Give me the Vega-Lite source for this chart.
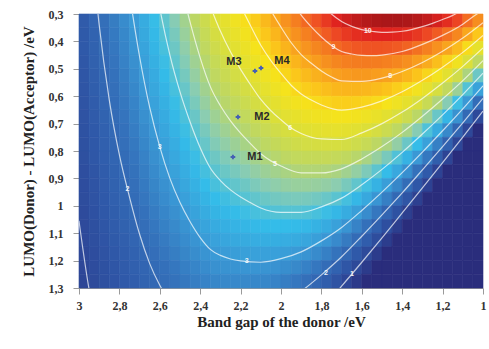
{
"$schema": "https://vega.github.io/schema/vega-lite/v6.json",
"width": 404, "height": 274,
"autosize": {"type": "none"},
"padding": {"left": 79, "top": 14, "right": 6, "bottom": 61},
"background": "white",
"config": {"view": {"stroke": null}, "axis": {"labelOverlap": false, "labelFlush": false, "grid": false, "labelBound": false, "domainColor": "#9a9a9a", "tickColor": "#9a9a9a", "tickSize": 6, "labelFont": "Liberation Serif", "labelFontSize": 12, "labelFontWeight": "bold", "labelColor": "#333333", "titleFont": "Liberation Serif", "titleFontSize": 15, "titleFontWeight": "bold", "titleColor": "#222222"}},
"datasets": {
"grid": [
{"e":2.975,"d":0.325,"v":1.58},{"e":2.975,"d":0.375,"v":1.55},{"e":2.975,"d":0.425,"v":1.52},{"e":2.975,"d":0.475,"v":1.48},{"e":2.975,"d":0.525,"v":1.45},{"e":2.975,"d":0.575,"v":1.42},{"e":2.975,"d":0.625,"v":1.38},{"e":2.975,"d":0.675,"v":1.35},{"e":2.975,"d":0.725,"v":1.31},{"e":2.975,"d":0.775,"v":1.28},{"e":2.975,"d":0.825,"v":1.25},{"e":2.975,"d":0.875,"v":1.21},{"e":2.975,"d":0.925,"v":1.18},{"e":2.975,"d":0.975,"v":1.15},{"e":2.975,"d":1.025,"v":1.11},{"e":2.975,"d":1.075,"v":1.08},{"e":2.975,"d":1.125,"v":1.05},{"e":2.975,"d":1.175,"v":1.01},{"e":2.975,"d":1.225,"v":0.98},{"e":2.975,"d":1.275,"v":0.94},
{"e":2.925,"d":0.325,"v":1.87},{"e":2.925,"d":0.375,"v":1.83},{"e":2.925,"d":0.425,"v":1.79},{"e":2.925,"d":0.475,"v":1.75},{"e":2.925,"d":0.525,"v":1.71},{"e":2.925,"d":0.575,"v":1.67},{"e":2.925,"d":0.625,"v":1.63},{"e":2.925,"d":0.675,"v":1.59},{"e":2.925,"d":0.725,"v":1.54},{"e":2.925,"d":0.775,"v":1.50},{"e":2.925,"d":0.825,"v":1.46},{"e":2.925,"d":0.875,"v":1.42},{"e":2.925,"d":0.925,"v":1.38},{"e":2.925,"d":0.975,"v":1.34},{"e":2.925,"d":1.025,"v":1.30},{"e":2.925,"d":1.075,"v":1.26},{"e":2.925,"d":1.125,"v":1.22},{"e":2.925,"d":1.175,"v":1.18},{"e":2.925,"d":1.225,"v":1.14},{"e":2.925,"d":1.275,"v":1.10},
{"e":2.875,"d":0.325,"v":2.16},{"e":2.875,"d":0.375,"v":2.11},{"e":2.875,"d":0.425,"v":2.06},{"e":2.875,"d":0.475,"v":2.01},{"e":2.875,"d":0.525,"v":1.96},{"e":2.875,"d":0.575,"v":1.92},{"e":2.875,"d":0.625,"v":1.87},{"e":2.875,"d":0.675,"v":1.82},{"e":2.875,"d":0.725,"v":1.77},{"e":2.875,"d":0.775,"v":1.72},{"e":2.875,"d":0.825,"v":1.68},{"e":2.875,"d":0.875,"v":1.63},{"e":2.875,"d":0.925,"v":1.58},{"e":2.875,"d":0.975,"v":1.53},{"e":2.875,"d":1.025,"v":1.49},{"e":2.875,"d":1.075,"v":1.44},{"e":2.875,"d":1.125,"v":1.39},{"e":2.875,"d":1.175,"v":1.34},{"e":2.875,"d":1.225,"v":1.29},{"e":2.875,"d":1.275,"v":1.25},
{"e":2.825,"d":0.325,"v":2.44},{"e":2.825,"d":0.375,"v":2.39},{"e":2.825,"d":0.425,"v":2.33},{"e":2.825,"d":0.475,"v":2.28},{"e":2.825,"d":0.525,"v":2.22},{"e":2.825,"d":0.575,"v":2.16},{"e":2.825,"d":0.625,"v":2.11},{"e":2.825,"d":0.675,"v":2.05},{"e":2.825,"d":0.725,"v":2.00},{"e":2.825,"d":0.775,"v":1.94},{"e":2.825,"d":0.825,"v":1.89},{"e":2.825,"d":0.875,"v":1.83},{"e":2.825,"d":0.925,"v":1.78},{"e":2.825,"d":0.975,"v":1.72},{"e":2.825,"d":1.025,"v":1.67},{"e":2.825,"d":1.075,"v":1.61},{"e":2.825,"d":1.125,"v":1.55},{"e":2.825,"d":1.175,"v":1.50},{"e":2.825,"d":1.225,"v":1.44},{"e":2.825,"d":1.275,"v":1.39},
{"e":2.775,"d":0.325,"v":2.73},{"e":2.775,"d":0.375,"v":2.66},{"e":2.775,"d":0.425,"v":2.60},{"e":2.775,"d":0.475,"v":2.54},{"e":2.775,"d":0.525,"v":2.47},{"e":2.775,"d":0.575,"v":2.41},{"e":2.775,"d":0.625,"v":2.35},{"e":2.775,"d":0.675,"v":2.28},{"e":2.775,"d":0.725,"v":2.22},{"e":2.775,"d":0.775,"v":2.16},{"e":2.775,"d":0.825,"v":2.09},{"e":2.775,"d":0.875,"v":2.03},{"e":2.775,"d":0.925,"v":1.97},{"e":2.775,"d":0.975,"v":1.90},{"e":2.775,"d":1.025,"v":1.84},{"e":2.775,"d":1.075,"v":1.78},{"e":2.775,"d":1.125,"v":1.71},{"e":2.775,"d":1.175,"v":1.65},{"e":2.775,"d":1.225,"v":1.59},{"e":2.775,"d":1.275,"v":1.52},
{"e":2.725,"d":0.325,"v":3.02},{"e":2.725,"d":0.375,"v":2.95},{"e":2.725,"d":0.425,"v":2.88},{"e":2.725,"d":0.475,"v":2.81},{"e":2.725,"d":0.525,"v":2.74},{"e":2.725,"d":0.575,"v":2.66},{"e":2.725,"d":0.625,"v":2.59},{"e":2.725,"d":0.675,"v":2.52},{"e":2.725,"d":0.725,"v":2.45},{"e":2.725,"d":0.775,"v":2.38},{"e":2.725,"d":0.825,"v":2.30},{"e":2.725,"d":0.875,"v":2.23},{"e":2.725,"d":0.925,"v":2.16},{"e":2.725,"d":0.975,"v":2.09},{"e":2.725,"d":1.025,"v":2.02},{"e":2.725,"d":1.075,"v":1.94},{"e":2.725,"d":1.125,"v":1.87},{"e":2.725,"d":1.175,"v":1.80},{"e":2.725,"d":1.225,"v":1.73},{"e":2.725,"d":1.275,"v":1.66},
{"e":2.675,"d":0.325,"v":3.38},{"e":2.675,"d":0.375,"v":3.30},{"e":2.675,"d":0.425,"v":3.21},{"e":2.675,"d":0.475,"v":3.13},{"e":2.675,"d":0.525,"v":3.05},{"e":2.675,"d":0.575,"v":2.97},{"e":2.675,"d":0.625,"v":2.88},{"e":2.675,"d":0.675,"v":2.80},{"e":2.675,"d":0.725,"v":2.72},{"e":2.675,"d":0.775,"v":2.64},{"e":2.675,"d":0.825,"v":2.55},{"e":2.675,"d":0.875,"v":2.47},{"e":2.675,"d":0.925,"v":2.39},{"e":2.675,"d":0.975,"v":2.31},{"e":2.675,"d":1.025,"v":2.22},{"e":2.675,"d":1.075,"v":2.14},{"e":2.675,"d":1.125,"v":2.06},{"e":2.675,"d":1.175,"v":1.98},{"e":2.675,"d":1.225,"v":1.89},{"e":2.675,"d":1.275,"v":1.81},
{"e":2.625,"d":0.325,"v":3.73},{"e":2.625,"d":0.375,"v":3.64},{"e":2.625,"d":0.425,"v":3.55},{"e":2.625,"d":0.475,"v":3.45},{"e":2.625,"d":0.525,"v":3.36},{"e":2.625,"d":0.575,"v":3.27},{"e":2.625,"d":0.625,"v":3.17},{"e":2.625,"d":0.675,"v":3.08},{"e":2.625,"d":0.725,"v":2.99},{"e":2.625,"d":0.775,"v":2.89},{"e":2.625,"d":0.825,"v":2.80},{"e":2.625,"d":0.875,"v":2.71},{"e":2.625,"d":0.925,"v":2.61},{"e":2.625,"d":0.975,"v":2.52},{"e":2.625,"d":1.025,"v":2.43},{"e":2.625,"d":1.075,"v":2.33},{"e":2.625,"d":1.125,"v":2.24},{"e":2.625,"d":1.175,"v":2.15},{"e":2.625,"d":1.225,"v":2.05},{"e":2.625,"d":1.275,"v":1.96},
{"e":2.575,"d":0.325,"v":4.09},{"e":2.575,"d":0.375,"v":3.98},{"e":2.575,"d":0.425,"v":3.88},{"e":2.575,"d":0.475,"v":3.77},{"e":2.575,"d":0.525,"v":3.67},{"e":2.575,"d":0.575,"v":3.56},{"e":2.575,"d":0.625,"v":3.46},{"e":2.575,"d":0.675,"v":3.35},{"e":2.575,"d":0.725,"v":3.25},{"e":2.575,"d":0.775,"v":3.14},{"e":2.575,"d":0.825,"v":3.04},{"e":2.575,"d":0.875,"v":2.94},{"e":2.575,"d":0.925,"v":2.83},{"e":2.575,"d":0.975,"v":2.73},{"e":2.575,"d":1.025,"v":2.62},{"e":2.575,"d":1.075,"v":2.52},{"e":2.575,"d":1.125,"v":2.41},{"e":2.575,"d":1.175,"v":2.31},{"e":2.575,"d":1.225,"v":2.20},{"e":2.575,"d":1.275,"v":2.10},
{"e":2.525,"d":0.325,"v":4.45},{"e":2.525,"d":0.375,"v":4.33},{"e":2.525,"d":0.425,"v":4.22},{"e":2.525,"d":0.475,"v":4.10},{"e":2.525,"d":0.525,"v":3.98},{"e":2.525,"d":0.575,"v":3.87},{"e":2.525,"d":0.625,"v":3.75},{"e":2.525,"d":0.675,"v":3.63},{"e":2.525,"d":0.725,"v":3.51},{"e":2.525,"d":0.775,"v":3.40},{"e":2.525,"d":0.825,"v":3.28},{"e":2.525,"d":0.875,"v":3.16},{"e":2.525,"d":0.925,"v":3.05},{"e":2.525,"d":0.975,"v":2.93},{"e":2.525,"d":1.025,"v":2.81},{"e":2.525,"d":1.075,"v":2.69},{"e":2.525,"d":1.125,"v":2.58},{"e":2.525,"d":1.175,"v":2.46},{"e":2.525,"d":1.225,"v":2.34},{"e":2.525,"d":1.275,"v":2.23},
{"e":2.475,"d":0.325,"v":4.82},{"e":2.475,"d":0.375,"v":4.69},{"e":2.475,"d":0.425,"v":4.56},{"e":2.475,"d":0.475,"v":4.43},{"e":2.475,"d":0.525,"v":4.30},{"e":2.475,"d":0.575,"v":4.17},{"e":2.475,"d":0.625,"v":4.04},{"e":2.475,"d":0.675,"v":3.91},{"e":2.475,"d":0.725,"v":3.78},{"e":2.475,"d":0.775,"v":3.65},{"e":2.475,"d":0.825,"v":3.52},{"e":2.475,"d":0.875,"v":3.39},{"e":2.475,"d":0.925,"v":3.26},{"e":2.475,"d":0.975,"v":3.13},{"e":2.475,"d":1.025,"v":3.00},{"e":2.475,"d":1.075,"v":2.87},{"e":2.475,"d":1.125,"v":2.74},{"e":2.475,"d":1.175,"v":2.61},{"e":2.475,"d":1.225,"v":2.48},{"e":2.475,"d":1.275,"v":2.35},
{"e":2.425,"d":0.325,"v":5.21},{"e":2.425,"d":0.375,"v":5.06},{"e":2.425,"d":0.425,"v":4.92},{"e":2.425,"d":0.475,"v":4.77},{"e":2.425,"d":0.525,"v":4.63},{"e":2.425,"d":0.575,"v":4.48},{"e":2.425,"d":0.625,"v":4.34},{"e":2.425,"d":0.675,"v":4.19},{"e":2.425,"d":0.725,"v":4.05},{"e":2.425,"d":0.775,"v":3.90},{"e":2.425,"d":0.825,"v":3.76},{"e":2.425,"d":0.875,"v":3.62},{"e":2.425,"d":0.925,"v":3.47},{"e":2.425,"d":0.975,"v":3.33},{"e":2.425,"d":1.025,"v":3.18},{"e":2.425,"d":1.075,"v":3.04},{"e":2.425,"d":1.125,"v":2.89},{"e":2.425,"d":1.175,"v":2.75},{"e":2.425,"d":1.225,"v":2.60},{"e":2.425,"d":1.275,"v":2.46},
{"e":2.375,"d":0.325,"v":5.61},{"e":2.375,"d":0.375,"v":5.45},{"e":2.375,"d":0.425,"v":5.29},{"e":2.375,"d":0.475,"v":5.13},{"e":2.375,"d":0.525,"v":4.97},{"e":2.375,"d":0.575,"v":4.81},{"e":2.375,"d":0.625,"v":4.65},{"e":2.375,"d":0.675,"v":4.49},{"e":2.375,"d":0.725,"v":4.33},{"e":2.375,"d":0.775,"v":4.17},{"e":2.375,"d":0.825,"v":4.01},{"e":2.375,"d":0.875,"v":3.85},{"e":2.375,"d":0.925,"v":3.69},{"e":2.375,"d":0.975,"v":3.53},{"e":2.375,"d":1.025,"v":3.37},{"e":2.375,"d":1.075,"v":3.21},{"e":2.375,"d":1.125,"v":3.05},{"e":2.375,"d":1.175,"v":2.89},{"e":2.375,"d":1.225,"v":2.73},{"e":2.375,"d":1.275,"v":2.56},
{"e":2.325,"d":0.325,"v":5.99},{"e":2.325,"d":0.375,"v":5.82},{"e":2.325,"d":0.425,"v":5.64},{"e":2.325,"d":0.475,"v":5.46},{"e":2.325,"d":0.525,"v":5.29},{"e":2.325,"d":0.575,"v":5.11},{"e":2.325,"d":0.625,"v":4.93},{"e":2.325,"d":0.675,"v":4.76},{"e":2.325,"d":0.725,"v":4.58},{"e":2.325,"d":0.775,"v":4.41},{"e":2.325,"d":0.825,"v":4.23},{"e":2.325,"d":0.875,"v":4.05},{"e":2.325,"d":0.925,"v":3.88},{"e":2.325,"d":0.975,"v":3.70},{"e":2.325,"d":1.025,"v":3.53},{"e":2.325,"d":1.075,"v":3.35},{"e":2.325,"d":1.125,"v":3.17},{"e":2.325,"d":1.175,"v":3.00},{"e":2.325,"d":1.225,"v":2.82},{"e":2.325,"d":1.275,"v":2.64},
{"e":2.275,"d":0.325,"v":6.29},{"e":2.275,"d":0.375,"v":6.10},{"e":2.275,"d":0.425,"v":5.91},{"e":2.275,"d":0.475,"v":5.72},{"e":2.275,"d":0.525,"v":5.53},{"e":2.275,"d":0.575,"v":5.34},{"e":2.275,"d":0.625,"v":5.15},{"e":2.275,"d":0.675,"v":4.96},{"e":2.275,"d":0.725,"v":4.77},{"e":2.275,"d":0.775,"v":4.58},{"e":2.275,"d":0.825,"v":4.39},{"e":2.275,"d":0.875,"v":4.20},{"e":2.275,"d":0.925,"v":4.01},{"e":2.275,"d":0.975,"v":3.81},{"e":2.275,"d":1.025,"v":3.62},{"e":2.275,"d":1.075,"v":3.43},{"e":2.275,"d":1.125,"v":3.24},{"e":2.275,"d":1.175,"v":3.05},{"e":2.275,"d":1.225,"v":2.86},{"e":2.275,"d":1.275,"v":2.67},
{"e":2.225,"d":0.325,"v":6.60},{"e":2.225,"d":0.375,"v":6.39},{"e":2.225,"d":0.425,"v":6.18},{"e":2.225,"d":0.475,"v":5.98},{"e":2.225,"d":0.525,"v":5.77},{"e":2.225,"d":0.575,"v":5.57},{"e":2.225,"d":0.625,"v":5.36},{"e":2.225,"d":0.675,"v":5.15},{"e":2.225,"d":0.725,"v":4.95},{"e":2.225,"d":0.775,"v":4.74},{"e":2.225,"d":0.825,"v":4.54},{"e":2.225,"d":0.875,"v":4.33},{"e":2.225,"d":0.925,"v":4.12},{"e":2.225,"d":0.975,"v":3.92},{"e":2.225,"d":1.025,"v":3.71},{"e":2.225,"d":1.075,"v":3.51},{"e":2.225,"d":1.125,"v":3.30},{"e":2.225,"d":1.175,"v":3.09},{"e":2.225,"d":1.225,"v":2.89},{"e":2.225,"d":1.275,"v":2.68},
{"e":2.175,"d":0.325,"v":6.91},{"e":2.175,"d":0.375,"v":6.69},{"e":2.175,"d":0.425,"v":6.46},{"e":2.175,"d":0.475,"v":6.24},{"e":2.175,"d":0.525,"v":6.02},{"e":2.175,"d":0.575,"v":5.79},{"e":2.175,"d":0.625,"v":5.57},{"e":2.175,"d":0.675,"v":5.35},{"e":2.175,"d":0.725,"v":5.13},{"e":2.175,"d":0.775,"v":4.90},{"e":2.175,"d":0.825,"v":4.68},{"e":2.175,"d":0.875,"v":4.46},{"e":2.175,"d":0.925,"v":4.23},{"e":2.175,"d":0.975,"v":4.01},{"e":2.175,"d":1.025,"v":3.79},{"e":2.175,"d":1.075,"v":3.57},{"e":2.175,"d":1.125,"v":3.34},{"e":2.175,"d":1.175,"v":3.12},{"e":2.175,"d":1.225,"v":2.90},{"e":2.175,"d":1.275,"v":2.67},
{"e":2.125,"d":0.325,"v":7.26},{"e":2.125,"d":0.375,"v":7.02},{"e":2.125,"d":0.425,"v":6.77},{"e":2.125,"d":0.475,"v":6.53},{"e":2.125,"d":0.525,"v":6.29},{"e":2.125,"d":0.575,"v":6.05},{"e":2.125,"d":0.625,"v":5.81},{"e":2.125,"d":0.675,"v":5.56},{"e":2.125,"d":0.725,"v":5.32},{"e":2.125,"d":0.775,"v":5.08},{"e":2.125,"d":0.825,"v":4.84},{"e":2.125,"d":0.875,"v":4.60},{"e":2.125,"d":0.925,"v":4.36},{"e":2.125,"d":0.975,"v":4.11},{"e":2.125,"d":1.025,"v":3.87},{"e":2.125,"d":1.075,"v":3.63},{"e":2.125,"d":1.125,"v":3.39},{"e":2.125,"d":1.175,"v":3.15},{"e":2.125,"d":1.225,"v":2.90},{"e":2.125,"d":1.275,"v":2.66},
{"e":2.075,"d":0.325,"v":7.62},{"e":2.075,"d":0.375,"v":7.36},{"e":2.075,"d":0.425,"v":7.09},{"e":2.075,"d":0.475,"v":6.83},{"e":2.075,"d":0.525,"v":6.57},{"e":2.075,"d":0.575,"v":6.30},{"e":2.075,"d":0.625,"v":6.04},{"e":2.075,"d":0.675,"v":5.78},{"e":2.075,"d":0.725,"v":5.52},{"e":2.075,"d":0.775,"v":5.25},{"e":2.075,"d":0.825,"v":4.99},{"e":2.075,"d":0.875,"v":4.73},{"e":2.075,"d":0.925,"v":4.47},{"e":2.075,"d":0.975,"v":4.20},{"e":2.075,"d":1.025,"v":3.94},{"e":2.075,"d":1.075,"v":3.68},{"e":2.075,"d":1.125,"v":3.41},{"e":2.075,"d":1.175,"v":3.15},{"e":2.075,"d":1.225,"v":2.89},{"e":2.075,"d":1.275,"v":2.63},
{"e":2.025,"d":0.325,"v":7.97},{"e":2.025,"d":0.375,"v":7.68},{"e":2.025,"d":0.425,"v":7.40},{"e":2.025,"d":0.475,"v":7.11},{"e":2.025,"d":0.525,"v":6.83},{"e":2.025,"d":0.575,"v":6.54},{"e":2.025,"d":0.625,"v":6.26},{"e":2.025,"d":0.675,"v":5.98},{"e":2.025,"d":0.725,"v":5.69},{"e":2.025,"d":0.775,"v":5.41},{"e":2.025,"d":0.825,"v":5.12},{"e":2.025,"d":0.875,"v":4.84},{"e":2.025,"d":0.925,"v":4.55},{"e":2.025,"d":0.975,"v":4.27},{"e":2.025,"d":1.025,"v":3.98},{"e":2.025,"d":1.075,"v":3.70},{"e":2.025,"d":1.125,"v":3.41},{"e":2.025,"d":1.175,"v":3.13},{"e":2.025,"d":1.225,"v":2.85},{"e":2.025,"d":1.275,"v":2.56},
{"e":1.975,"d":0.325,"v":8.33},{"e":1.975,"d":0.375,"v":8.02},{"e":1.975,"d":0.425,"v":7.71},{"e":1.975,"d":0.475,"v":7.40},{"e":1.975,"d":0.525,"v":7.09},{"e":1.975,"d":0.575,"v":6.78},{"e":1.975,"d":0.625,"v":6.48},{"e":1.975,"d":0.675,"v":6.17},{"e":1.975,"d":0.725,"v":5.86},{"e":1.975,"d":0.775,"v":5.55},{"e":1.975,"d":0.825,"v":5.24},{"e":1.975,"d":0.875,"v":4.93},{"e":1.975,"d":0.925,"v":4.63},{"e":1.975,"d":0.975,"v":4.32},{"e":1.975,"d":1.025,"v":4.01},{"e":1.975,"d":1.075,"v":3.70},{"e":1.975,"d":1.125,"v":3.39},{"e":1.975,"d":1.175,"v":3.08},{"e":1.975,"d":1.225,"v":2.78},{"e":1.975,"d":1.275,"v":2.47},
{"e":1.925,"d":0.325,"v":8.69},{"e":1.925,"d":0.375,"v":8.36},{"e":1.925,"d":0.425,"v":8.02},{"e":1.925,"d":0.475,"v":7.69},{"e":1.925,"d":0.525,"v":7.36},{"e":1.925,"d":0.575,"v":7.02},{"e":1.925,"d":0.625,"v":6.69},{"e":1.925,"d":0.675,"v":6.35},{"e":1.925,"d":0.725,"v":6.02},{"e":1.925,"d":0.775,"v":5.68},{"e":1.925,"d":0.825,"v":5.35},{"e":1.925,"d":0.875,"v":5.02},{"e":1.925,"d":0.925,"v":4.68},{"e":1.925,"d":0.975,"v":4.35},{"e":1.925,"d":1.025,"v":4.01},{"e":1.925,"d":1.075,"v":3.68},{"e":1.925,"d":1.125,"v":3.34},{"e":1.925,"d":1.175,"v":3.01},{"e":1.925,"d":1.225,"v":2.67},{"e":1.925,"d":1.275,"v":2.34},
{"e":1.875,"d":0.325,"v":9.02},{"e":1.875,"d":0.375,"v":8.66},{"e":1.875,"d":0.425,"v":8.30},{"e":1.875,"d":0.475,"v":7.94},{"e":1.875,"d":0.525,"v":7.58},{"e":1.875,"d":0.575,"v":7.22},{"e":1.875,"d":0.625,"v":6.85},{"e":1.875,"d":0.675,"v":6.49},{"e":1.875,"d":0.725,"v":6.13},{"e":1.875,"d":0.775,"v":5.77},{"e":1.875,"d":0.825,"v":5.41},{"e":1.875,"d":0.875,"v":5.05},{"e":1.875,"d":0.925,"v":4.69},{"e":1.875,"d":0.975,"v":4.33},{"e":1.875,"d":1.025,"v":3.97},{"e":1.875,"d":1.075,"v":3.61},{"e":1.875,"d":1.125,"v":3.25},{"e":1.875,"d":1.175,"v":2.89},{"e":1.875,"d":1.225,"v":2.53},{"e":1.875,"d":1.275,"v":2.16},
{"e":1.825,"d":0.325,"v":9.32},{"e":1.825,"d":0.375,"v":8.93},{"e":1.825,"d":0.425,"v":8.54},{"e":1.825,"d":0.475,"v":8.15},{"e":1.825,"d":0.525,"v":7.76},{"e":1.825,"d":0.575,"v":7.38},{"e":1.825,"d":0.625,"v":6.99},{"e":1.825,"d":0.675,"v":6.60},{"e":1.825,"d":0.725,"v":6.21},{"e":1.825,"d":0.775,"v":5.82},{"e":1.825,"d":0.825,"v":5.43},{"e":1.825,"d":0.875,"v":5.05},{"e":1.825,"d":0.925,"v":4.66},{"e":1.825,"d":0.975,"v":4.27},{"e":1.825,"d":1.025,"v":3.88},{"e":1.825,"d":1.075,"v":3.49},{"e":1.825,"d":1.125,"v":3.11},{"e":1.825,"d":1.175,"v":2.72},{"e":1.825,"d":1.225,"v":2.33},{"e":1.825,"d":1.275,"v":1.94},
{"e":1.775,"d":0.325,"v":9.62},{"e":1.775,"d":0.375,"v":9.20},{"e":1.775,"d":0.425,"v":8.78},{"e":1.775,"d":0.475,"v":8.37},{"e":1.775,"d":0.525,"v":7.95},{"e":1.775,"d":0.575,"v":7.53},{"e":1.775,"d":0.625,"v":7.11},{"e":1.775,"d":0.675,"v":6.69},{"e":1.775,"d":0.725,"v":6.28},{"e":1.775,"d":0.775,"v":5.86},{"e":1.775,"d":0.825,"v":5.44},{"e":1.775,"d":0.875,"v":5.02},{"e":1.775,"d":0.925,"v":4.60},{"e":1.775,"d":0.975,"v":4.18},{"e":1.775,"d":1.025,"v":3.77},{"e":1.775,"d":1.075,"v":3.35},{"e":1.775,"d":1.125,"v":2.93},{"e":1.775,"d":1.175,"v":2.51},{"e":1.775,"d":1.225,"v":2.09},{"e":1.775,"d":1.275,"v":1.67},
{"e":1.725,"d":0.325,"v":9.90},{"e":1.725,"d":0.375,"v":9.45},{"e":1.725,"d":0.425,"v":9.00},{"e":1.725,"d":0.475,"v":8.55},{"e":1.725,"d":0.525,"v":8.10},{"e":1.725,"d":0.575,"v":7.65},{"e":1.725,"d":0.625,"v":7.20},{"e":1.725,"d":0.675,"v":6.75},{"e":1.725,"d":0.725,"v":6.30},{"e":1.725,"d":0.775,"v":5.85},{"e":1.725,"d":0.825,"v":5.40},{"e":1.725,"d":0.875,"v":4.95},{"e":1.725,"d":0.925,"v":4.50},{"e":1.725,"d":0.975,"v":4.05},{"e":1.725,"d":1.025,"v":3.60},{"e":1.725,"d":1.075,"v":3.15},{"e":1.725,"d":1.125,"v":2.70},{"e":1.725,"d":1.175,"v":2.25},{"e":1.725,"d":1.225,"v":1.80},{"e":1.725,"d":1.275,"v":1.35},
{"e":1.675,"d":0.325,"v":10.11},{"e":1.675,"d":0.375,"v":9.63},{"e":1.675,"d":0.425,"v":9.15},{"e":1.675,"d":0.475,"v":8.67},{"e":1.675,"d":0.525,"v":8.18},{"e":1.675,"d":0.575,"v":7.70},{"e":1.675,"d":0.625,"v":7.22},{"e":1.675,"d":0.675,"v":6.74},{"e":1.675,"d":0.725,"v":6.26},{"e":1.675,"d":0.775,"v":5.78},{"e":1.675,"d":0.825,"v":5.30},{"e":1.675,"d":0.875,"v":4.81},{"e":1.675,"d":0.925,"v":4.33},{"e":1.675,"d":0.975,"v":3.85},{"e":1.675,"d":1.025,"v":3.37},{"e":1.675,"d":1.075,"v":2.89},{"e":1.675,"d":1.125,"v":2.41},{"e":1.675,"d":1.175,"v":1.93},{"e":1.675,"d":1.225,"v":1.44},{"e":1.675,"d":1.275,"v":0.96},
{"e":1.625,"d":0.325,"v":10.27},{"e":1.625,"d":0.375,"v":9.76},{"e":1.625,"d":0.425,"v":9.25},{"e":1.625,"d":0.475,"v":8.73},{"e":1.625,"d":0.525,"v":8.22},{"e":1.625,"d":0.575,"v":7.70},{"e":1.625,"d":0.625,"v":7.19},{"e":1.625,"d":0.675,"v":6.68},{"e":1.625,"d":0.725,"v":6.16},{"e":1.625,"d":0.775,"v":5.65},{"e":1.625,"d":0.825,"v":5.14},{"e":1.625,"d":0.875,"v":4.62},{"e":1.625,"d":0.925,"v":4.11},{"e":1.625,"d":0.975,"v":3.60},{"e":1.625,"d":1.025,"v":3.08},{"e":1.625,"d":1.075,"v":2.57},{"e":1.625,"d":1.125,"v":2.05},{"e":1.625,"d":1.175,"v":1.54},{"e":1.625,"d":1.225,"v":1.03},{"e":1.625,"d":1.275,"v":0.51},
{"e":1.575,"d":0.325,"v":10.39},{"e":1.575,"d":0.375,"v":9.84},{"e":1.575,"d":0.425,"v":9.29},{"e":1.575,"d":0.475,"v":8.75},{"e":1.575,"d":0.525,"v":8.20},{"e":1.575,"d":0.575,"v":7.65},{"e":1.575,"d":0.625,"v":7.11},{"e":1.575,"d":0.675,"v":6.56},{"e":1.575,"d":0.725,"v":6.01},{"e":1.575,"d":0.775,"v":5.47},{"e":1.575,"d":0.825,"v":4.92},{"e":1.575,"d":0.875,"v":4.37},{"e":1.575,"d":0.925,"v":3.83},{"e":1.575,"d":0.975,"v":3.28},{"e":1.575,"d":1.025,"v":2.73},{"e":1.575,"d":1.075,"v":2.19},{"e":1.575,"d":1.125,"v":1.64},{"e":1.575,"d":1.175,"v":1.09},{"e":1.575,"d":1.225,"v":0.55},{"e":1.575,"d":1.275,"v":0},
{"e":1.525,"d":0.325,"v":10.47},{"e":1.525,"d":0.375,"v":9.89},{"e":1.525,"d":0.425,"v":9.31},{"e":1.525,"d":0.475,"v":8.72},{"e":1.525,"d":0.525,"v":8.14},{"e":1.525,"d":0.575,"v":7.56},{"e":1.525,"d":0.625,"v":6.98},{"e":1.525,"d":0.675,"v":6.40},{"e":1.525,"d":0.725,"v":5.82},{"e":1.525,"d":0.775,"v":5.23},{"e":1.525,"d":0.825,"v":4.65},{"e":1.525,"d":0.875,"v":4.07},{"e":1.525,"d":0.925,"v":3.49},{"e":1.525,"d":0.975,"v":2.91},{"e":1.525,"d":1.025,"v":2.33},{"e":1.525,"d":1.075,"v":1.74},{"e":1.525,"d":1.125,"v":1.16},{"e":1.525,"d":1.175,"v":0.58},{"e":1.525,"d":1.225,"v":0},{"e":1.525,"d":1.275,"v":0},
{"e":1.475,"d":0.325,"v":10.52},{"e":1.475,"d":0.375,"v":9.90},{"e":1.475,"d":0.425,"v":9.28},{"e":1.475,"d":0.475,"v":8.66},{"e":1.475,"d":0.525,"v":8.04},{"e":1.475,"d":0.575,"v":7.43},{"e":1.475,"d":0.625,"v":6.81},{"e":1.475,"d":0.675,"v":6.19},{"e":1.475,"d":0.725,"v":5.57},{"e":1.475,"d":0.775,"v":4.95},{"e":1.475,"d":0.825,"v":4.33},{"e":1.475,"d":0.875,"v":3.71},{"e":1.475,"d":0.925,"v":3.09},{"e":1.475,"d":0.975,"v":2.48},{"e":1.475,"d":1.025,"v":1.86},{"e":1.475,"d":1.075,"v":1.24},{"e":1.475,"d":1.125,"v":0.62},{"e":1.475,"d":1.175,"v":0},{"e":1.475,"d":1.225,"v":0},{"e":1.475,"d":1.275,"v":0},
{"e":1.425,"d":0.325,"v":10.52},{"e":1.425,"d":0.375,"v":9.86},{"e":1.425,"d":0.425,"v":9.21},{"e":1.425,"d":0.475,"v":8.55},{"e":1.425,"d":0.525,"v":7.89},{"e":1.425,"d":0.575,"v":7.23},{"e":1.425,"d":0.625,"v":6.58},{"e":1.425,"d":0.675,"v":5.92},{"e":1.425,"d":0.725,"v":5.26},{"e":1.425,"d":0.775,"v":4.60},{"e":1.425,"d":0.825,"v":3.95},{"e":1.425,"d":0.875,"v":3.29},{"e":1.425,"d":0.925,"v":2.63},{"e":1.425,"d":0.975,"v":1.97},{"e":1.425,"d":1.025,"v":1.32},{"e":1.425,"d":1.075,"v":0.66},{"e":1.425,"d":1.125,"v":0},{"e":1.425,"d":1.175,"v":0},{"e":1.425,"d":1.225,"v":0},{"e":1.425,"d":1.275,"v":0},
{"e":1.375,"d":0.325,"v":10.48},{"e":1.375,"d":0.375,"v":9.78},{"e":1.375,"d":0.425,"v":9.08},{"e":1.375,"d":0.475,"v":8.38},{"e":1.375,"d":0.525,"v":7.69},{"e":1.375,"d":0.575,"v":6.99},{"e":1.375,"d":0.625,"v":6.29},{"e":1.375,"d":0.675,"v":5.59},{"e":1.375,"d":0.725,"v":4.89},{"e":1.375,"d":0.775,"v":4.19},{"e":1.375,"d":0.825,"v":3.49},{"e":1.375,"d":0.875,"v":2.79},{"e":1.375,"d":0.925,"v":2.10},{"e":1.375,"d":0.975,"v":1.40},{"e":1.375,"d":1.025,"v":0.70},{"e":1.375,"d":1.075,"v":0},{"e":1.375,"d":1.125,"v":0},{"e":1.375,"d":1.175,"v":0},{"e":1.375,"d":1.225,"v":0},{"e":1.375,"d":1.275,"v":0},
{"e":1.325,"d":0.325,"v":10.38},{"e":1.325,"d":0.375,"v":9.64},{"e":1.325,"d":0.425,"v":8.90},{"e":1.325,"d":0.475,"v":8.15},{"e":1.325,"d":0.525,"v":7.41},{"e":1.325,"d":0.575,"v":6.67},{"e":1.325,"d":0.625,"v":5.93},{"e":1.325,"d":0.675,"v":5.19},{"e":1.325,"d":0.725,"v":4.45},{"e":1.325,"d":0.775,"v":3.71},{"e":1.325,"d":0.825,"v":2.97},{"e":1.325,"d":0.875,"v":2.22},{"e":1.325,"d":0.925,"v":1.48},{"e":1.325,"d":0.975,"v":0.74},{"e":1.325,"d":1.025,"v":0},{"e":1.325,"d":1.075,"v":0},{"e":1.325,"d":1.125,"v":0},{"e":1.325,"d":1.175,"v":0},{"e":1.325,"d":1.225,"v":0},{"e":1.325,"d":1.275,"v":0},
{"e":1.275,"d":0.325,"v":10.24},{"e":1.275,"d":0.375,"v":9.45},{"e":1.275,"d":0.425,"v":8.66},{"e":1.275,"d":0.475,"v":7.87},{"e":1.275,"d":0.525,"v":7.09},{"e":1.275,"d":0.575,"v":6.30},{"e":1.275,"d":0.625,"v":5.51},{"e":1.275,"d":0.675,"v":4.72},{"e":1.275,"d":0.725,"v":3.94},{"e":1.275,"d":0.775,"v":3.15},{"e":1.275,"d":0.825,"v":2.36},{"e":1.275,"d":0.875,"v":1.57},{"e":1.275,"d":0.925,"v":0.79},{"e":1.275,"d":0.975,"v":0},{"e":1.275,"d":1.025,"v":0},{"e":1.275,"d":1.075,"v":0},{"e":1.275,"d":1.125,"v":0},{"e":1.275,"d":1.175,"v":0},{"e":1.275,"d":1.225,"v":0},{"e":1.275,"d":1.275,"v":0},
{"e":1.225,"d":0.325,"v":10.03},{"e":1.225,"d":0.375,"v":9.20},{"e":1.225,"d":0.425,"v":8.36},{"e":1.225,"d":0.475,"v":7.52},{"e":1.225,"d":0.525,"v":6.69},{"e":1.225,"d":0.575,"v":5.85},{"e":1.225,"d":0.625,"v":5.02},{"e":1.225,"d":0.675,"v":4.18},{"e":1.225,"d":0.725,"v":3.34},{"e":1.225,"d":0.775,"v":2.51},{"e":1.225,"d":0.825,"v":1.67},{"e":1.225,"d":0.875,"v":0.84},{"e":1.225,"d":0.925,"v":0},{"e":1.225,"d":0.975,"v":0},{"e":1.225,"d":1.025,"v":0},{"e":1.225,"d":1.075,"v":0},{"e":1.225,"d":1.125,"v":0},{"e":1.225,"d":1.175,"v":0},{"e":1.225,"d":1.225,"v":0},{"e":1.225,"d":1.275,"v":0},
{"e":1.175,"d":0.325,"v":9.78},{"e":1.175,"d":0.375,"v":8.90},{"e":1.175,"d":0.425,"v":8.01},{"e":1.175,"d":0.475,"v":7.12},{"e":1.175,"d":0.525,"v":6.23},{"e":1.175,"d":0.575,"v":5.34},{"e":1.175,"d":0.625,"v":4.45},{"e":1.175,"d":0.675,"v":3.56},{"e":1.175,"d":0.725,"v":2.67},{"e":1.175,"d":0.775,"v":1.78},{"e":1.175,"d":0.825,"v":0.89},{"e":1.175,"d":0.875,"v":0},{"e":1.175,"d":0.925,"v":0},{"e":1.175,"d":0.975,"v":0},{"e":1.175,"d":1.025,"v":0},{"e":1.175,"d":1.075,"v":0},{"e":1.175,"d":1.125,"v":0},{"e":1.175,"d":1.175,"v":0},{"e":1.175,"d":1.225,"v":0},{"e":1.175,"d":1.275,"v":0},
{"e":1.125,"d":0.325,"v":9.48},{"e":1.125,"d":0.375,"v":8.53},{"e":1.125,"d":0.425,"v":7.58},{"e":1.125,"d":0.475,"v":6.63},{"e":1.125,"d":0.525,"v":5.69},{"e":1.125,"d":0.575,"v":4.74},{"e":1.125,"d":0.625,"v":3.79},{"e":1.125,"d":0.675,"v":2.84},{"e":1.125,"d":0.725,"v":1.90},{"e":1.125,"d":0.775,"v":0.95},{"e":1.125,"d":0.825,"v":0},{"e":1.125,"d":0.875,"v":0},{"e":1.125,"d":0.925,"v":0},{"e":1.125,"d":0.975,"v":0},{"e":1.125,"d":1.025,"v":0},{"e":1.125,"d":1.075,"v":0},{"e":1.125,"d":1.125,"v":0},{"e":1.125,"d":1.175,"v":0},{"e":1.125,"d":1.225,"v":0},{"e":1.125,"d":1.275,"v":0},
{"e":1.075,"d":0.325,"v":8.95},{"e":1.075,"d":0.375,"v":7.96},{"e":1.075,"d":0.425,"v":6.96},{"e":1.075,"d":0.475,"v":5.97},{"e":1.075,"d":0.525,"v":4.97},{"e":1.075,"d":0.575,"v":3.98},{"e":1.075,"d":0.625,"v":2.98},{"e":1.075,"d":0.675,"v":1.99},{"e":1.075,"d":0.725,"v":0.99},{"e":1.075,"d":0.775,"v":0},{"e":1.075,"d":0.825,"v":0},{"e":1.075,"d":0.875,"v":0},{"e":1.075,"d":0.925,"v":0},{"e":1.075,"d":0.975,"v":0},{"e":1.075,"d":1.025,"v":0},{"e":1.075,"d":1.075,"v":0},{"e":1.075,"d":1.125,"v":0},{"e":1.075,"d":1.175,"v":0},{"e":1.075,"d":1.225,"v":0},{"e":1.075,"d":1.275,"v":0},
{"e":1.025,"d":0.325,"v":8.42},{"e":1.025,"d":0.375,"v":7.37},{"e":1.025,"d":0.425,"v":6.32},{"e":1.025,"d":0.475,"v":5.27},{"e":1.025,"d":0.525,"v":4.21},{"e":1.025,"d":0.575,"v":3.16},{"e":1.025,"d":0.625,"v":2.11},{"e":1.025,"d":0.675,"v":1.05},{"e":1.025,"d":0.725,"v":0},{"e":1.025,"d":0.775,"v":0},{"e":1.025,"d":0.825,"v":0},{"e":1.025,"d":0.875,"v":0},{"e":1.025,"d":0.925,"v":0},{"e":1.025,"d":0.975,"v":0},{"e":1.025,"d":1.025,"v":0},{"e":1.025,"d":1.075,"v":0},{"e":1.025,"d":1.125,"v":0},{"e":1.025,"d":1.175,"v":0},{"e":1.025,"d":1.225,"v":0},{"e":1.025,"d":1.275,"v":0}
],
"contours": [
{"lv":1,"e":3.0,"d":1.055},{"lv":1,"e":2.95,"d":1.305},{"lv":1,"e":2.9,"d":1.47},{"lv":1,"e":1.8,"d":1.376},{"lv":1,"e":1.7,"d":1.293},{"lv":1,"e":1.6,"d":1.206},{"lv":1,"e":1.5,"d":1.117},{"lv":1,"e":1.4,"d":1.026},{"lv":1,"e":1.3,"d":0.935},{"lv":1,"e":1.2,"d":0.842},{"lv":1,"e":1.1,"d":0.749},{"lv":1,"e":1.0,"d":0.654},
{"lv":2,"e":2.95,"d":-0.04},{"lv":2,"e":2.9,"d":0.34},{"lv":2,"e":2.85,"d":0.614},{"lv":2,"e":2.8,"d":0.814},{"lv":2,"e":2.75,"d":0.968},{"lv":2,"e":2.7,"d":1.104},{"lv":2,"e":2.65,"d":1.211},{"lv":2,"e":2.6,"d":1.29},{"lv":2,"e":2.55,"d":1.35},{"lv":2,"e":2.5,"d":1.392},{"lv":2,"e":2.0,"d":1.362},{"lv":2,"e":1.9,"d":1.312},{"lv":2,"e":1.8,"d":1.252},{"lv":2,"e":1.7,"d":1.186},{"lv":2,"e":1.6,"d":1.111},{"lv":2,"e":1.5,"d":1.033},{"lv":2,"e":1.4,"d":0.953},{"lv":2,"e":1.3,"d":0.869},{"lv":2,"e":1.2,"d":0.784},{"lv":2,"e":1.1,"d":0.697},{"lv":2,"e":1.0,"d":0.608},
{"lv":3,"e":2.8,"d":-0.029},{"lv":3,"e":2.75,"d":0.227},{"lv":3,"e":2.7,"d":0.456},{"lv":3,"e":2.65,"d":0.641},{"lv":3,"e":2.6,"d":0.785},{"lv":3,"e":2.55,"d":0.9},{"lv":3,"e":2.5,"d":0.988},{"lv":3,"e":2.45,"d":1.058},{"lv":3,"e":2.4,"d":1.116},{"lv":3,"e":2.35,"d":1.159},{"lv":3,"e":2.3,"d":1.181},{"lv":3,"e":2.25,"d":1.194},{"lv":3,"e":2.2,"d":1.201},{"lv":3,"e":2.1,"d":1.206},{"lv":3,"e":2.0,"d":1.193},{"lv":3,"e":1.9,"d":1.168},{"lv":3,"e":1.8,"d":1.128},{"lv":3,"e":1.7,"d":1.079},{"lv":3,"e":1.6,"d":1.017},{"lv":3,"e":1.5,"d":0.95},{"lv":3,"e":1.4,"d":0.879},{"lv":3,"e":1.3,"d":0.804},{"lv":3,"e":1.2,"d":0.726},{"lv":3,"e":1.1,"d":0.646},{"lv":3,"e":1.0,"d":0.562},
{"lv":4,"e":2.7,"d":-0.19},{"lv":4,"e":2.65,"d":0.072},{"lv":4,"e":2.6,"d":0.28},{"lv":4,"e":2.55,"d":0.45},{"lv":4,"e":2.5,"d":0.584},{"lv":4,"e":2.45,"d":0.694},{"lv":4,"e":2.4,"d":0.788},{"lv":4,"e":2.35,"d":0.862},{"lv":4,"e":2.3,"d":0.908},{"lv":4,"e":2.25,"d":0.942},{"lv":4,"e":2.2,"d":0.968},{"lv":4,"e":2.15,"d":0.989},{"lv":4,"e":2.1,"d":1.008},{"lv":4,"e":2.0,"d":1.024},{"lv":4,"e":1.9,"d":1.024},{"lv":4,"e":1.8,"d":1.004},{"lv":4,"e":1.7,"d":0.972},{"lv":4,"e":1.6,"d":0.923},{"lv":4,"e":1.5,"d":0.867},{"lv":4,"e":1.4,"d":0.805},{"lv":4,"e":1.3,"d":0.738},{"lv":4,"e":1.2,"d":0.668},{"lv":4,"e":1.1,"d":0.594},{"lv":4,"e":1.0,"d":0.516},
{"lv":5,"e":2.55,"d":0.0},{"lv":5,"e":2.5,"d":0.18},{"lv":5,"e":2.45,"d":0.33},{"lv":5,"e":2.4,"d":0.46},{"lv":5,"e":2.35,"d":0.565},{"lv":5,"e":2.3,"d":0.635},{"lv":5,"e":2.25,"d":0.69},{"lv":5,"e":2.2,"d":0.735},{"lv":5,"e":2.15,"d":0.774},{"lv":5,"e":2.1,"d":0.81},{"lv":5,"e":2.05,"d":0.836},{"lv":5,"e":2.0,"d":0.855},{"lv":5,"e":1.9,"d":0.88},{"lv":5,"e":1.8,"d":0.88},{"lv":5,"e":1.7,"d":0.865},{"lv":5,"e":1.6,"d":0.829},{"lv":5,"e":1.5,"d":0.784},{"lv":5,"e":1.4,"d":0.732},{"lv":5,"e":1.3,"d":0.673},{"lv":5,"e":1.2,"d":0.61},{"lv":5,"e":1.1,"d":0.543},{"lv":5,"e":1.0,"d":0.47},
{"lv":6,"e":2.45,"d":-0.034},{"lv":6,"e":2.4,"d":0.132},{"lv":6,"e":2.35,"d":0.269},{"lv":6,"e":2.3,"d":0.362},{"lv":6,"e":2.25,"d":0.438},{"lv":6,"e":2.2,"d":0.502},{"lv":6,"e":2.15,"d":0.559},{"lv":6,"e":2.1,"d":0.612},{"lv":6,"e":2.05,"d":0.653},{"lv":6,"e":2.0,"d":0.686},{"lv":6,"e":1.95,"d":0.716},{"lv":6,"e":1.9,"d":0.736},{"lv":6,"e":1.8,"d":0.756},{"lv":6,"e":1.7,"d":0.758},{"lv":6,"e":1.6,"d":0.734},{"lv":6,"e":1.5,"d":0.7},{"lv":6,"e":1.4,"d":0.658},{"lv":6,"e":1.3,"d":0.608},{"lv":6,"e":1.2,"d":0.552},{"lv":6,"e":1.1,"d":0.491},{"lv":6,"e":1.0,"d":0.424},
{"lv":7,"e":2.3,"d":0.089},{"lv":7,"e":2.25,"d":0.186},{"lv":7,"e":2.2,"d":0.269},{"lv":7,"e":2.15,"d":0.344},{"lv":7,"e":2.1,"d":0.414},{"lv":7,"e":2.05,"d":0.47},{"lv":7,"e":2.0,"d":0.517},{"lv":7,"e":1.95,"d":0.56},{"lv":7,"e":1.9,"d":0.592},{"lv":7,"e":1.85,"d":0.614},{"lv":7,"e":1.8,"d":0.632},{"lv":7,"e":1.7,"d":0.651},{"lv":7,"e":1.6,"d":0.64},{"lv":7,"e":1.5,"d":0.617},{"lv":7,"e":1.4,"d":0.584},{"lv":7,"e":1.3,"d":0.542},{"lv":7,"e":1.2,"d":0.494},{"lv":7,"e":1.1,"d":0.44},{"lv":7,"e":1.0,"d":0.378},
{"lv":8,"e":2.15,"d":0.128},{"lv":8,"e":2.1,"d":0.216},{"lv":8,"e":2.05,"d":0.287},{"lv":8,"e":2.0,"d":0.348},{"lv":8,"e":1.95,"d":0.404},{"lv":8,"e":1.9,"d":0.448},{"lv":8,"e":1.85,"d":0.48},{"lv":8,"e":1.8,"d":0.508},{"lv":8,"e":1.75,"d":0.53},{"lv":8,"e":1.7,"d":0.544},{"lv":8,"e":1.6,"d":0.546},{"lv":8,"e":1.5,"d":0.534},{"lv":8,"e":1.4,"d":0.51},{"lv":8,"e":1.3,"d":0.477},{"lv":8,"e":1.2,"d":0.436},{"lv":8,"e":1.1,"d":0.388},{"lv":8,"e":1.0,"d":0.332},
{"lv":9,"e":2.0,"d":0.179},{"lv":9,"e":1.95,"d":0.249},{"lv":9,"e":1.9,"d":0.304},{"lv":9,"e":1.85,"d":0.347},{"lv":9,"e":1.8,"d":0.384},{"lv":9,"e":1.75,"d":0.415},{"lv":9,"e":1.7,"d":0.437},{"lv":9,"e":1.65,"d":0.446},{"lv":9,"e":1.6,"d":0.451},{"lv":9,"e":1.55,"d":0.452},{"lv":9,"e":1.5,"d":0.45},{"lv":9,"e":1.4,"d":0.437},{"lv":9,"e":1.3,"d":0.411},{"lv":9,"e":1.2,"d":0.378},{"lv":9,"e":1.1,"d":0.337},{"lv":9,"e":1.05,"d":0.31},{"lv":9,"e":1.0,"d":0.286},
{"lv":10,"e":1.8,"d":0.26},{"lv":10,"e":1.75,"d":0.3},{"lv":10,"e":1.7,"d":0.327},{"lv":10,"e":1.65,"d":0.345},{"lv":10,"e":1.6,"d":0.357},{"lv":10,"e":1.55,"d":0.363},{"lv":10,"e":1.5,"d":0.367},{"lv":10,"e":1.45,"d":0.366},{"lv":10,"e":1.4,"d":0.363},{"lv":10,"e":1.35,"d":0.356},{"lv":10,"e":1.3,"d":0.346},{"lv":10,"e":1.25,"d":0.334},{"lv":10,"e":1.2,"d":0.32},{"lv":10,"e":1.15,"d":0.305},{"lv":10,"e":1.1,"d":0.285}
],
"clabels": [
{"e":1.649,"d":1.25,"t":"1"},{"e":1.777,"d":1.245,"t":"2"},{"e":2.17,"d":1.203,"t":"3"},{"e":2.76,"d":0.94,"t":"2"},{"e":2.6,"d":0.785,"t":"3"},{"e":2.03,"d":0.848,"t":"5"},{"e":1.955,"d":0.715,"t":"6"},{"e":1.46,"d":0.525,"t":"8"},{"e":1.74,"d":0.42,"t":"9"},{"e":1.57,"d":0.362,"t":"10"}
],
"mpts": [
{"e":2.238,"d":0.822,"n":"M1"},{"e":2.213,"d":0.676,"n":"M2"},{"e":2.129,"d":0.508,"n":"M3"},{"e":2.099,"d":0.497,"n":"M4"}
],
"mlabels": [
{"e":2.129,"d":0.822,"n":"M1"},{"e":2.094,"d":0.676,"n":"M2"},{"e":2.233,"d":0.475,"n":"M3"},{"e":1.995,"d":0.472,"n":"M4"}
]
},
"layer": [
{
"data": {"name": "grid"},
"mark": {"type": "rect", "strokeWidth": 0.6},
"encoding": {
"x": {"field": "e", "type": "ordinal", "sort": "descending", "scale": {"paddingInner": 0, "paddingOuter": 0}, "axis": null},
"y": {"field": "d", "type": "ordinal", "sort": "ascending", "scale": {"paddingInner": 0, "paddingOuter": 0}, "axis": null},
"color": {"field": "v", "type": "quantitative", "legend": null, "scale": {"type": "linear", "interpolate": "rgb", "clamp": true, "domain": [0, 0.8, 1.5, 2.2, 3.0, 3.7, 4.5, 5.2, 6.0, 6.8, 7.4, 8.1, 8.8, 9.4, 9.9, 10.6], "range": ["#2a2d7c", "#2d4192", "#2f58a8", "#3470ba", "#3a9ad6", "#34bce9", "#8ccdb0", "#bcd765", "#dcdf38", "#f6e31b", "#fbc51b", "#f89f1e", "#f47820", "#ee4c24", "#e0231f", "#a31618"]}},
"stroke": {"field": "v", "type": "quantitative", "legend": null, "scale": {"type": "linear", "interpolate": "rgb", "clamp": true, "domain": [0, 0.8, 1.5, 2.2, 3.0, 3.7, 4.5, 5.2, 6.0, 6.8, 7.4, 8.1, 8.8, 9.4, 9.9, 10.6], "range": ["#2a2d7c", "#2d4192", "#2f58a8", "#3470ba", "#3a9ad6", "#34bce9", "#8ccdb0", "#bcd765", "#dcdf38", "#f6e31b", "#fbc51b", "#f89f1e", "#f47820", "#ee4c24", "#e0231f", "#a31618"]}}
}
},
{
"layer": [
{
"data": {"name": "contours"},
"mark": {"type": "line", "stroke": "#ffffff", "strokeOpacity": 0.7, "strokeWidth": 1.2, "clip": true, "interpolate": "monotone"},
"encoding": {
"x": {"field": "e", "type": "quantitative", "scale": {"domain": [1, 3], "reverse": true, "nice": false, "zero": false},
"axis": {"orient": "bottom", "values": [3, 2.8, 2.6, 2.4, 2.2, 2, 1.8, 1.6, 1.4, 1.2, 1], "tickCount": 11, "labelExpr": "replace(format(datum.value, '.1~f'), '.', ',')", "title": "Band gap of the donor /eV", "labelOverlap": false, "labelFlush": false, "labelPadding": 6, "titlePadding": 3}},
"y": {"field": "d", "type": "quantitative", "scale": {"domain": [0.3, 1.3], "reverse": true, "nice": false, "zero": false},
"axis": {"orient": "left", "values": [0.3, 0.4, 0.5, 0.6, 0.7, 0.8, 0.9, 1, 1.1, 1.2, 1.3], "tickCount": 11, "labelExpr": "replace(format(datum.value, '.1~f'), '.', ',')", "title": "LUMO(Donor) - LUMO(Acceptor) /eV", "labelOverlap": false, "labelFlush": false, "labelPadding": 10, "titlePadding": 12}},
"detail": {"field": "lv", "type": "nominal"}
}
},
{
"data": {"name": "clabels"},
"mark": {"type": "text", "color": "#ffffff", "fontSize": 7, "fontWeight": "bold", "font": "Liberation Sans", "opacity": 0.9},
"encoding": {
"x": {"field": "e", "type": "quantitative"},
"y": {"field": "d", "type": "quantitative"},
"text": {"field": "t", "type": "nominal"}
}
},
{
"data": {"name": "mpts"},
"mark": {"type": "point", "shape": "cross", "filled": true, "size": 22, "color": "#4560b4", "opacity": 1},
"encoding": {
"x": {"field": "e", "type": "quantitative"},
"y": {"field": "d", "type": "quantitative"}
}
},
{
"data": {"name": "mlabels"},
"mark": {"type": "text", "color": "#2a2a2a", "fontSize": 11, "fontWeight": "bold", "font": "Liberation Sans"},
"encoding": {
"x": {"field": "e", "type": "quantitative"},
"y": {"field": "d", "type": "quantitative"},
"text": {"field": "n", "type": "nominal"}
}
}
]
}
],
"resolve": {"scale": {"x": "independent", "y": "independent"}}
}
